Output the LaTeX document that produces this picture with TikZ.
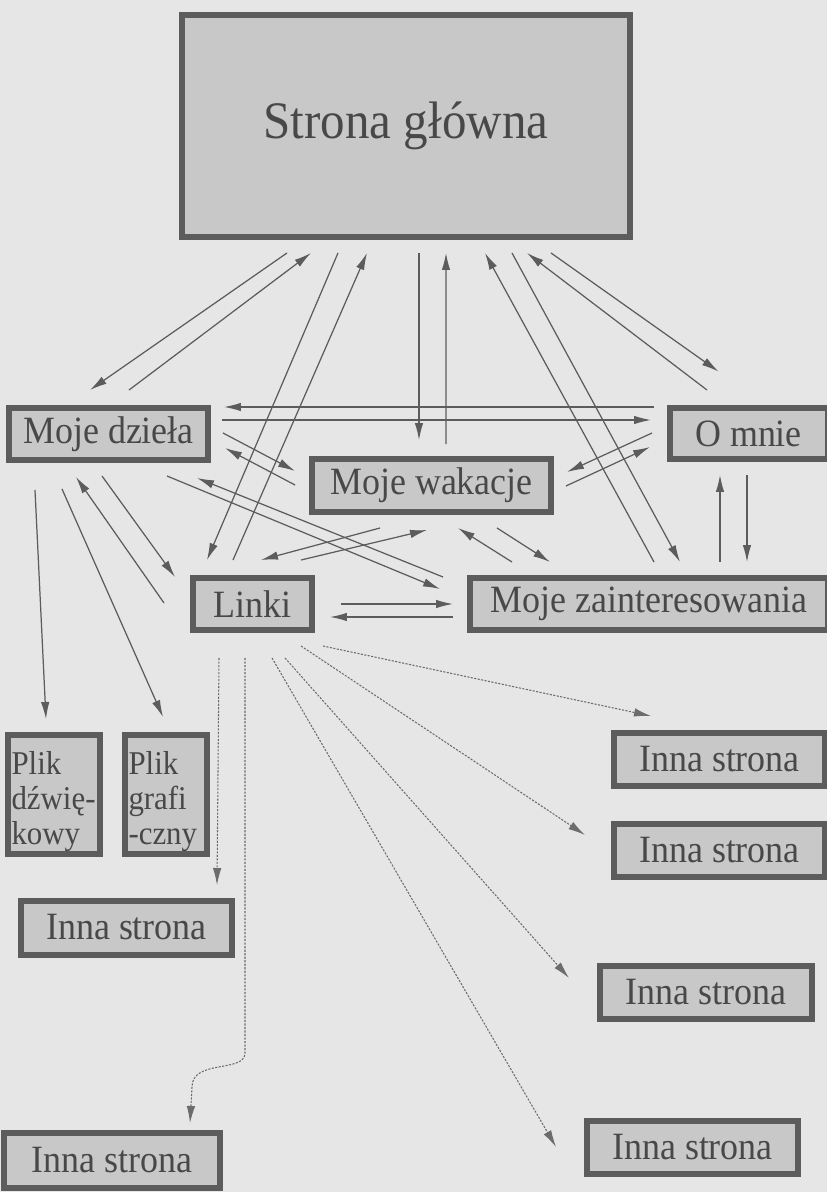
\documentclass[tikz,border=0pt]{standalone}
\usepackage{fontspec}
\setmainfont{Liberation Serif}[FakeStretch=0.93]
\usepackage{tikz}
\usetikzlibrary{arrows.meta}
\definecolor{paper}{RGB}{230,230,230}
\definecolor{boxfill}{RGB}{200,200,200}
\definecolor{boxline}{RGB}{92,92,92}
\definecolor{ink}{RGB}{72,72,72}
\tikzstyle{page}=[rectangle,draw=boxline,fill=boxfill,line width=0.12cm,text=ink,minimum height=1.06cm,inner sep=0pt,font=\fontsize{22}{25}\selectfont]
\tikzstyle{file}=[page,minimum height=2.4cm,inner xsep=0.08cm,align=left,font=\fontsize{18.9}{19.9}\selectfont]
\tikzstyle{wire} = [draw,thin,-]

\begin{document}
\begin{tikzpicture}[x=0.02cm,y=-0.02cm]
      \tikzset{wire/.style = {->,>={Latex[length=0.34cm,width=0.17cm]},draw=boxline,line width=0.7pt}}
      \tikzset{wiredot/.style = {wire,draw=boxline!90,line width=0.6pt,dash pattern=on 1.2pt off 0.8pt}}
      \useasboundingbox (0,0) rectangle (827,1192);
      \fill[paper] (0,0) rectangle (827,1192);
      \node[page,minimum width=8.98cm,minimum height=4.46cm,font=\fontsize{30}{34}\selectfont] (strona) at (406,126) {Strona główna};
      \node[page,minimum width=4.0cm] (dziela) at (108.5,434) {Moje dzieła};
      \node[page,minimum width=3.16cm,minimum height=1.04cm] (omnie) at (748.5,433.5) {O mnie};
      \node[page,minimum width=4.8cm,minimum height=1.08cm] (wakacje) at (431.5,485.5) {Moje wakacje};
      \node[page,minimum width=2.4cm] (linki) at (252.5,604) {Linki};
      \node[page,minimum width=7.18cm] (zaint) at (649,604) {Moje zainteresowania};
      \node[file,text width=1.7cm] (plikd) at (54,794.5) {\rule{0pt}{0.74cm}Plik\\dźwię-\\kowy};
      \node[file,text width=1.5cm] (plikg) at (166,794.5) {\rule{0pt}{0.74cm}Plik\\grafi\\-czny};
      \node[page,minimum width=4.24cm,minimum height=1.08cm] (innal1) at (126.5,927.5) {Inna strona};
      \node[page,minimum width=4.32cm,minimum height=1.1cm] (innal2) at (112,1160) {Inna strona};
      \node[page,minimum width=4.24cm] (innar1) at (719.5,759) {Inna strona};
      \node[page,minimum width=4.24cm] (innar2) at (719.5,850) {Inna strona};
      \node[page,minimum width=4.26cm] (innar3) at (706,992) {Inna strona};
      \node[page,minimum width=4.24cm] (innar4) at (692.5,1147.5) {Inna strona};
      \draw[wire] ([shift={(-119,12.5)}]strona.south) to ([shift={(-18.5,-14.5)}]dziela.north);
      \draw[wire] ([shift={(20.5,-14.5)}]dziela.north) to ([shift={(-95,12.5)}]strona.south);
      \draw[wire] ([shift={(-68,12.5)}]strona.south) to ([shift={(-45.5,-14.5)}]linki.north);
      \draw[wire] ([shift={(-19.5,-14.5)}]linki.north) to ([shift={(-39,12.5)}]strona.south);
      \draw[wire] ([shift={(13,12.5)}]strona.south) to ([shift={(-12.5,-15.5)}]wakacje.north);
      \draw[wire] ([shift={(14.5,-11.5)}]wakacje.north) to ([shift={(40,12.5)}]strona.south);
      \draw[wire] ([shift={(5,-12.5)}]zaint.north) to ([shift={(79,12.5)}]strona.south);
      \draw[wire] ([shift={(106,12.5)}]strona.south) to ([shift={(31,-12.5)}]zaint.north);
      \draw[wire] ([shift={(-41.5,-14.5)}]omnie.north) to ([shift={(121,12.5)}]strona.south);
      \draw[wire] ([shift={(145,12.5)}]strona.south) to ([shift={(-30,-33)}]omnie.north);
      \draw[wire] ([shift={(-12.5,-26.5)}]omnie.west) to ([shift={(12.5,-27)}]dziela.east);
      \draw[wire] ([shift={(10.5,-14)}]dziela.east) to ([shift={(-15.5,-13.5)}]omnie.west);
      \draw[wire] ([shift={(11.5,-1)}]dziela.east) to ([shift={(-13.5,-14.5)}]wakacje.west);
      \draw[wire] ([shift={(-13.5,-0.5)}]wakacje.west) to ([shift={(13.5,14)}]dziela.east);
      \draw[wire] ([shift={(-6.5,12.5)}]dziela.south) to ([shift={(-14.5,-27)}]linki.west);
      \draw[wire] ([shift={(-25.5,-1)}]linki.west) to ([shift={(-32.5,13.5)}]dziela.south);
      \draw[wire] ([shift={(58.5,12.5)}]dziela.south) to ([shift={(-26.5,-15)}]zaint.west);
      \draw[wire] ([shift={(-23.5,-27)}]zaint.west) to ([shift={(88.5,14.5)}]dziela.south);
      \draw[wire] ([shift={(-73.5,26.5)}]dziela.south) to ([shift={(-8,-12.5)}]plikd.north);
      \draw[wire] ([shift={(-46.5,25.5)}]dziela.south) to ([shift={(-3,-14.5)}]plikg.north);
      \draw[wire] ([shift={(-51.5,12.5)}]wakacje.south) to ([shift={(8.5,-14.5)}]linki.north);
      \draw[wire] ([shift={(48.5,-14.5)}]linki.north) to ([shift={(-4.5,14.5)}]wakacje.south);
      \draw[wire] ([shift={(-14.5,-0.5)}]omnie.west) to ([shift={(12.5,-13.5)}]wakacje.east);
      \draw[wire] ([shift={(11.5,0.5)}]wakacje.east) to ([shift={(-16.5,13.5)}]omnie.west);
      \draw[wire] ([shift={(-137,-12.5)}]zaint.north) to ([shift={(26.5,12.5)}]wakacje.south);
      \draw[wire] ([shift={(65.5,12.5)}]wakacje.south) to ([shift={(-99,-12.5)}]zaint.north);
      \draw[wire] ([shift={(71,-12.5)}]zaint.north) to ([shift={(-28.5,12.5)}]omnie.south);
      \draw[wire] ([shift={(-1.5,12.5)}]omnie.south) to ([shift={(98,-12.5)}]zaint.north);
      \draw[wire] ([shift={(25.5,0)}]linki.east) to ([shift={(-13.5,0)}]zaint.west);
      \draw[wire] ([shift={(-13.5,13)}]zaint.west) to ([shift={(14.5,13)}]linki.east);
      \draw[wiredot] ([shift={(-33.5,24.5)}]linki.south) to ([shift={(90.5,-12.5)}]innal1.north);
      \draw[wiredot] ([shift={(-7.5,24.5)}]linki.south) -- ++(0,395) .. controls +(0,20) and +(0,-28) .. ([shift={(80,-42.5)}]innal2.north) -- ([shift={(78,-6.5)}]innal2.north);
      \draw[wiredot] ([shift={(19.5,24.5)}]linki.south) to ([shift={(-27.5,-0.5)}]innar4.west);
      \draw[wiredot] ([shift={(32.5,24.5)}]linki.south) to ([shift={(-27.5,-14)}]innar3.west);
      \draw[wiredot] ([shift={(48.5,12.5)}]linki.south) to ([shift={(-25.5,-15)}]innar2.west);
      \draw[wiredot] ([shift={(70.5,12.5)}]linki.south) to ([shift={(-68.5,-13.5)}]innar1.north);
    \end{tikzpicture}
\end{document}
